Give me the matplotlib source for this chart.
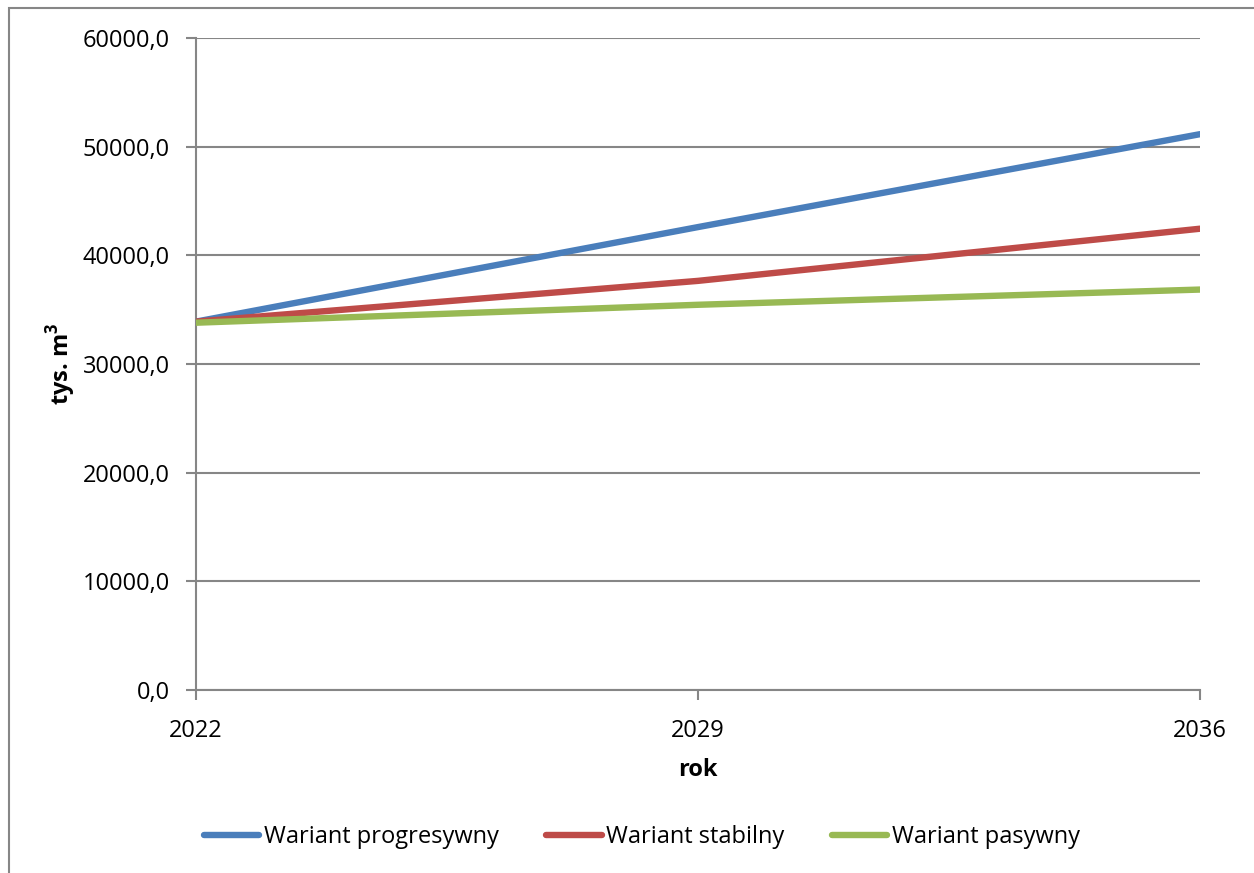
import matplotlib
matplotlib.use("Agg")
import matplotlib.pyplot as plt
from matplotlib.patches import Rectangle

years = [2022, 2029, 2036]
progresywny = [33900, 42600, 51150]
stabilny = [33900, 37650, 42450]
pasywny = [33800, 35450, 36850]
series_names = ["Wariant progresywny", "Wariant stabilny", "Wariant pasywny"]
colors = ["#4A7EBB", "#BE4B48", "#98B954"]
yticks = [0, 10000, 20000, 30000, 40000, 50000, 60000]
ytick_labels = ["0,0", "10000,0", "20000,0", "30000,0", "40000,0", "50000,0", "60000,0"]

plt.rcParams['font.family'] = ['Open Sans', 'DejaVu Sans']
plt.rcParams['mathtext.fontset'] = 'custom'
plt.rcParams['mathtext.bf'] = 'Open Sans:bold'
plt.rcParams['mathtext.rm'] = 'Open Sans'

W, H = 1254, 873
fig = plt.figure(figsize=(W / 100, H / 100), dpi=100)
ax = fig.add_axes([196 / W, (H - 690) / H, (1200 - 196) / W, (690 - 38) / H])

# outer chart border
fig.patches.append(Rectangle((9 / W, -0.05), 1.2, (H - 8) / H + 0.05,
                             transform=fig.transFigure, fill=False,
                             edgecolor="#868686", linewidth=1.5, zorder=0))

for vals, name, c in zip([progresywny, stabilny, pasywny], series_names, colors):
    ax.plot(years, vals, color=c, linewidth=4.6, label=name,
            solid_capstyle="round", zorder=3)

ax.set_xlim(2022, 2036)
ax.set_ylim(0, 60000)
ax.set_yticks(yticks)
ax.set_yticklabels(ytick_labels)
ax.set_xticks(years)
ax.set_xticklabels([str(y) for y in years])
ax.grid(axis="y", color="#868686", linewidth=1.5, zorder=1)
ax.set_axisbelow(True)
for s in ["top", "right"]:
    ax.spines[s].set_visible(False)
for s in ["left", "bottom"]:
    ax.spines[s].set_color("#868686")
    ax.spines[s].set_linewidth(1.5)
ax.tick_params(axis="both", colors="#868686", length=7, width=1.5,
               labelsize=17, labelcolor="black")
ax.tick_params(axis="y", pad=12)
ax.tick_params(axis="x", pad=14)

ax.set_xlabel("rok", fontsize=17, fontweight="bold", labelpad=11)
ax.set_ylabel(r"tys. m$^\mathbf{3}$", fontsize=17, fontweight="bold", labelpad=3)

ax.legend(loc="center", bbox_to_anchor=(642 / W, (H - 837) / H),
          bbox_transform=fig.transFigure, ncol=3, frameon=False,
          fontsize=17, handlelength=2.35, handletextpad=0.2,
          columnspacing=2.0)

fig.savefig("out.png", dpi=100)
